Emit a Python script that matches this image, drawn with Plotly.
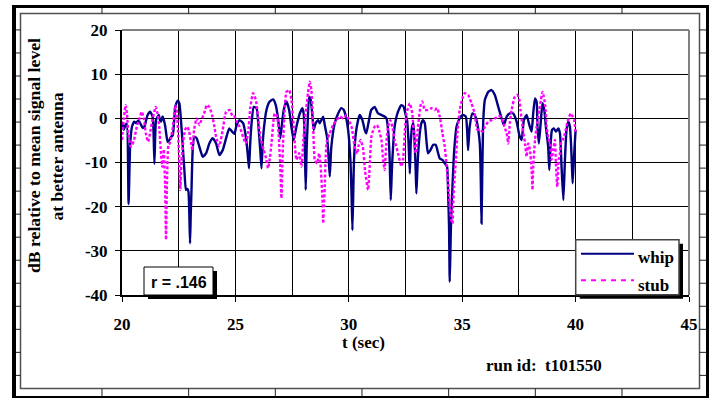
import plotly.graph_objects as go

# ---------------- data ----------------
t_whip = [20.00, 20.08, 20.15, 20.21, 20.29, 20.36, 20.44, 20.54, 20.62, 20.70, 20.76, 20.84, 20.92, 20.99,
          21.06, 21.13, 21.24, 21.35, 21.39, 21.43, 21.47, 21.50, 21.56, 21.62, 21.68, 21.72, 21.79, 21.85,
          21.91, 22.01, 22.09, 22.16, 22.24, 22.30, 22.35, 22.41, 22.46, 22.53, 22.60, 22.68, 22.75, 22.82,
          22.88, 22.93, 22.97, 23.00, 23.03, 23.06, 23.12, 23.19, 23.29, 23.41, 23.56, 23.71, 23.85, 24.00,
          24.15, 24.29, 24.44, 24.59, 24.73, 24.85, 24.96, 25.03, 25.12, 25.19, 25.34, 25.48, 25.55, 25.60,
          25.65, 25.70, 25.81, 25.93, 26.04, 26.10, 26.15, 26.20, 26.25, 26.37, 26.51, 26.66, 26.78, 26.88,
          26.98, 27.06, 27.13, 27.25, 27.37, 27.47, 27.57, 27.69, 27.84, 27.95, 28.01, 28.06, 28.10, 28.14,
          28.18, 28.25, 28.32, 28.40, 28.45, 28.54, 28.65, 28.72, 28.79, 28.87, 28.94, 29.04, 29.10, 29.16,
          29.23, 29.38, 29.53, 29.67, 29.78, 29.87, 29.97, 30.07, 30.12, 30.16, 30.20, 30.23, 30.31, 30.41,
          30.48, 30.60, 30.70, 30.77, 30.89, 30.99, 31.14, 31.29, 31.44, 31.58, 31.66, 31.74, 31.80, 31.85,
          31.89, 31.92, 32.02, 32.17, 32.32, 32.42, 32.51, 32.57, 32.63, 32.69, 32.73, 32.79, 32.85, 32.91,
          32.95, 32.98, 33.02, 33.05, 33.13, 33.20, 33.27, 33.35, 33.42, 33.49, 33.60, 33.72, 33.83, 33.94,
          34.01, 34.13, 34.23, 34.33, 34.38, 34.42, 34.45, 34.48, 34.51, 34.57, 34.64, 34.75, 34.85, 34.94,
          35.04, 35.16, 35.22, 35.26, 35.30, 35.33, 35.45, 35.55, 35.63, 35.72, 35.78, 35.82, 35.85, 35.88,
          35.93, 36.00, 36.15, 36.29, 36.44, 36.59, 36.74, 36.84, 36.96, 37.10, 37.25, 37.40, 37.52, 37.62,
          37.72, 37.84, 37.96, 38.06, 38.13, 38.21, 38.28, 38.32, 38.38, 38.46, 38.54, 38.62, 38.69, 38.79,
          38.84, 38.90, 38.96, 39.04, 39.13, 39.24, 39.31, 39.38, 39.46, 39.53, 39.60, 39.68, 39.75, 39.80,
          39.84, 39.87, 39.93, 40.00]
whip_db = [-0.8, -2.6, -1.5, -1.2, -19.4, -6.0, -1.9, -0.75, -1.1, -0.6, -0.75, -1.5, -2.2, -1.9,
           -0.5, 0.75, 1.5, 0.4, -3.0, -10.3, -3.0, -0.4, 0.3, 0.75, -0.5, -0.75, 0.4, -0.5,
           -1.9, -5.3, -4.9, -4.2, -3.8, -0.5, 2.6, 3.6, 4.0, 3.4, -0.4, -6.4, -11.7, -16.2,
           -16.0, -16.6, -22.0, -28.3, -22.0, -17.0, -6.8, -4.2, -4.5, -6.4, -8.7, -7.9, -5.7, -4.5,
           -5.7, -8.3, -7.2, -4.5, -2.3, -3.0, -3.5, -2.0, -0.8, -0.4, -1.1, -4.9, -8.5, -11.3,
           -6.0, -1.9, 2.6, 2.3, -3.4, -7.5, -11.3, -6.0, -2.6, 1.9, 3.8, 4.3, 3.0, 0.0,
           -4.5, -1.0, 1.9, 3.8, 1.9, -1.9, -4.9, -1.9, 1.1, 2.3, 1.1, -6.0, -16.2, -7.0,
           -1.9, 4.9, 4.2, 0.4, -2.6, -1.1, -0.4, -1.1, -0.4, 0.4, -1.5, -4.2, -8.0, -13.2,
           -6.4, -1.1, 1.1, 2.3, 1.9, 0.4, -2.6, -9.4, -17.0, -25.3, -16.0, -9.4, -3.4, -0.4,
           0.75, -0.4, -2.6, -3.4, -0.4, 1.9, 2.6, 1.1, 0.75, 0.4, 0.0, -3.0, -9.0, -18.5,
           -13.0, -9.4, -1.9, 1.5, 3.0, 2.6, 0.75, -0.4, -5.0, -12.5, -5.7, -1.9, -1.1, -6.4,
           -12.0, -17.0, -12.0, -8.7, -3.4, -1.1, -0.4, -1.1, -4.9, -7.9, -7.2, -6.0, -6.0, -7.9,
           -9.1, -9.4, -10.2, -10.9, -17.0, -24.5, -37.0, -30.0, -23.0, -15.5, -7.9, -1.9, -0.4, 0.4,
           0.75, 0.4, -3.0, -7.2, -4.0, -1.9, 1.1, 0.75, -0.4, -3.0, -6.0, -14.0, -23.8, -14.0,
           -0.4, 4.2, 6.0, 6.4, 5.3, 2.6, 0.0, -1.5, 0.4, 1.1, 1.1, -0.75, -3.8, -4.9,
           -0.4, 0.75, -1.5, -3.0, 1.1, 4.5, 3.8, -1.9, -5.7, -1.1, 3.4, 1.9, -1.9, -6.4,
           -11.7, -5.7, -2.6, -2.3, -3.0, -2.3, -3.4, -10.9, -18.5, -9.4, -2.6, -0.75, -1.9, -6.0,
           -11.0, -14.7, -8.7, -2.6]

t_stub = [20.00, 20.08, 20.16, 20.22, 20.28, 20.38, 20.45, 20.53, 20.65, 20.75, 20.87, 20.96, 21.05, 21.15,
          21.25, 21.34, 21.49, 21.57, 21.64, 21.72, 21.78, 21.84, 21.90, 21.94, 21.98, 22.05, 22.10, 22.16,
          22.24, 22.35, 22.41, 22.47, 22.52, 22.57, 22.62, 22.69, 22.78, 22.88, 22.96, 23.04, 23.10, 23.18,
          23.29, 23.41, 23.50, 23.62, 23.74, 23.85, 23.97, 24.06, 24.15, 24.29, 24.44, 24.59, 24.74, 24.88,
          24.96, 25.08, 25.19, 25.34, 25.45, 25.56, 25.66, 25.78, 25.90, 26.00, 26.10, 26.25, 26.35, 26.44,
          26.52, 26.59, 26.73, 26.84, 26.93, 26.98, 27.03, 27.07, 27.10, 27.18, 27.25, 27.37, 27.47, 27.57,
          27.69, 27.81, 27.91, 27.98, 28.05, 28.13, 28.20, 28.28, 28.35, 28.43, 28.50, 28.60, 28.69, 28.75,
          28.84, 28.87, 28.90, 28.94, 28.98, 29.04, 29.16, 29.31, 29.46, 29.60, 29.75, 29.90, 29.97, 30.12,
          30.26, 30.36, 30.44, 30.52, 30.62, 30.72, 30.85, 30.92, 31.00, 31.14, 31.24, 31.33, 31.44, 31.51,
          31.58, 31.65, 31.73, 31.83, 31.92, 32.02, 32.17, 32.32, 32.39, 32.47, 32.54, 32.69, 32.80, 32.88,
          32.95, 33.05, 33.17, 33.24, 33.35, 33.49, 33.64, 33.79, 33.89, 34.01, 34.13, 34.23, 34.33, 34.42,
          34.48, 34.54, 34.57, 34.60, 34.64, 34.72, 34.79, 34.89, 35.01, 35.11, 35.26, 35.41, 35.55, 35.66,
          35.78, 35.90, 36.00, 36.15, 36.29, 36.44, 36.59, 36.66, 36.74, 36.81, 36.96, 37.03, 37.10, 37.18,
          37.32, 37.43, 37.52, 37.57, 37.66, 37.77, 37.84, 37.91, 37.99, 38.06, 38.10, 38.13, 38.21, 38.28,
          38.40, 38.47, 38.54, 38.60, 38.68, 38.72, 38.79, 38.87, 38.94, 39.01, 39.09, 39.13, 39.19, 39.25,
          39.31, 39.35, 39.43, 39.53, 39.63, 39.72, 39.79, 39.87, 39.94, 40.00]
stub_db = [-4.9, 0.0, 3.0, 1.0, -3.4, -6.4, -6.0, -4.9, -2.0, -0.4, 1.5, 0.0, -3.4, -5.3,
           -3.0, -0.4, 2.6, 1.0, -1.9, -8.0, -11.0, -7.0, -15.0, -27.5, -15.0, -6.0, -5.7, -4.5,
           -2.0, 3.0, 2.0, -3.0, -9.0, -16.2, -10.0, -5.7, -2.6, -1.9, -3.0, -5.3, -7.2, -2.6,
           0.0, -1.5, -0.4, 1.1, 3.0, 2.6, 0.75, -1.5, -4.2, -6.3, -2.6, 1.5, 1.9, 0.4,
           0.4, -1.0, -1.9, -4.2, -5.7, -3.4, 2.6, 5.7, 4.2, 0.4, -4.2, -7.2, -9.0, -11.3,
           -9.0, -5.7, 1.1, 0.4, -5.7, -11.0, -18.1, -11.0, -5.7, 2.6, 6.0, 6.4, 4.2, -1.9,
           -9.4, -7.9, -10.9, -6.4, -1.0, 2.6, 5.7, 8.3, 6.4, -1.9, -9.4, -10.2, -7.9, -10.2,
           -18.5, -23.8, -20.0, -15.5, -8.7, -4.9, -3.4, -1.5, -0.4, 0.4, 0.0, 0.75, 0.0, -1.9,
           -6.4, -8.0, -6.0, -4.9, -6.5, -12.0, -16.2, -11.0, -4.0, -1.9, -1.5, -2.6, -4.9, -9.4,
           -11.7, -6.0, -1.9, -0.4, -1.9, -4.9, -7.9, -10.9, -9.4, -3.0, 1.1, 3.4, 1.1, -4.9,
           -7.9, -1.9, 3.0, 3.8, 1.9, 1.9, 2.3, 1.9, 2.3, 0.4, -3.4, -6.4, -11.7, -17.7,
           -21.5, -23.5, -23.8, -20.0, -15.5, -9.4, -3.4, 1.9, 4.5, 5.7, 5.3, 3.4, 1.1, -2.5,
           -2.6, -3.0, -1.9, -0.75, -0.4, 0.0, 0.4, 0.5, 0.0, -1.1, -3.4, -5.7, -1.1, 1.9,
           4.9, 5.3, 4.2, 1.9, -1.9, -5.7, -8.7, -5.7, -7.2, -11.7, -16.2, -10.9, -4.9, -1.9,
           1.9, 4.2, 6.0, 4.9, 1.9, -1.9, -4.2, -5.7, -9.4, -7.2, -4.9, -10.2, -15.5, -9.4,
           -7.9, -5.7, -4.9, -3.4, -1.1, 0.4, 1.1, 0.4, -0.4, -3.4]

series_names = ["whip", "stub"]
series_colors = ["#000080", "#FF00FF"]
x_ticks = [20, 25, 30, 35, 40, 45]
y_ticks = [20, 10, 0, -10, -20, -30, -40]
r_text = "r = .146"
run_id_text = "run id:\u00a0\u00a0t101550"
x_title = "t (sec)"
y_title_1 = "dB relative to mean signal level"
y_title_2 = "at better antenna"

# ---------------- layout geometry ----------------
W, H = 714, 398
ML, MR, MT, MB = 122, 25, 30, 103
PW, PH = W - ML - MR, H - MT - MB

def px(x):
    return (x - ML) / PW

def py(y):
    return (H - MB - y) / PH

SERIF = "Liberation Serif"
SANS = "Liberation Sans"

fig = go.Figure()
fig.add_trace(go.Scatter(x=t_whip, y=whip_db, mode="lines", name=series_names[0],
                         line=dict(color=series_colors[0], width=2.4, shape="spline", smoothing=0.5)))
fig.add_trace(go.Scatter(x=t_stub, y=stub_db, mode="lines", name=series_names[1],
                         line=dict(color=series_colors[1], width=2.4, dash="3px,2px",
                                   shape="spline", smoothing=0.5)))

shapes = []

def rect(x0, y0, x1, y1, fill=None, line=None, lw=0, layer="above"):
    d = dict(type="rect", xref="paper", yref="paper", x0=px(x0), x1=px(x1), y0=py(y1), y1=py(y0),
             layer=layer, line=dict(width=lw, color=line or "rgba(0,0,0,0)"))
    if fill:
        d["fillcolor"] = fill
    shapes.append(d)

def seg(x0, y0, x1, y1, color, width, dash=None):
    ln = dict(color=color, width=width)
    if dash:
        ln["dash"] = dash
    shapes.append(dict(type="line", xref="paper", yref="paper", x0=px(x0), x1=px(x1),
                       y0=py(y0), y1=py(y1), line=ln, layer="above"))

# outer thick frame
rect(12, 5, 16, 399, fill="black")
rect(12, 5, 709, 8, fill="black")
rect(706, 5, 709, 399, fill="black")
rect(12, 396, 709, 399, fill="black")
# inner thin frame
rect(20.5, 13.5, 699.5, 388.5, line="#505050", lw=1.5)
# ruler ticks
for k in range(1, 17):
    yy = 6.9 + 23.03 * k
    seg(16, yy, 20.5, yy, "#202020", 1)
    seg(699.5, yy, 706, yy, "#202020", 1)
for k in range(1, 8):
    xx = 15.3 + 86.67 * k
    seg(xx, 8, xx, 13.5, "#202020", 1)
    seg(xx, 388.5, xx, 396, "#202020", 1)

# plot area top/right border (gray)
shapes.append(dict(type="line", xref="paper", yref="paper", x0=0, x1=1, y0=1, y1=1,
                   line=dict(color="#808080", width=2)))
shapes.append(dict(type="line", xref="paper", yref="paper", x0=1, x1=1, y0=0, y1=1,
                   line=dict(color="#808080", width=2)))

# r box with shadow
rect(148, 271, 217, 299, fill="black")
rect(144, 267, 213, 295, fill="white", line="black", lw=1)

# legend box with shadow
rect(579.7, 243.7, 683, 298.7, fill="black")
rect(575.7, 239.7, 679, 294.7, fill="white", line="#444444", lw=1.5)
seg(581, 253.7, 634, 253.7, series_colors[0], 2)
seg(581, 280.3, 634, 280.3, series_colors[1], 2, dash="5px,5px")

annotations = [
    dict(text=r_text, x=px(178.7), y=py(282.5), xref="paper", yref="paper", showarrow=False,
         xanchor="center", yanchor="middle", font=dict(family=SANS, size=16, color="black", weight="bold")),
    dict(text=series_names[0], x=px(636), y=py(257.3), xref="paper", yref="paper", showarrow=False,
         xanchor="left", yanchor="middle", font=dict(family=SERIF, size=17, color="black", weight="bold")),
    dict(text=series_names[1], x=px(636), y=py(285), xref="paper", yref="paper", showarrow=False,
         xanchor="left", yanchor="middle", font=dict(family=SERIF, size=17, color="black", weight="bold")),
    dict(text=x_title, x=px(363.7), y=py(342), xref="paper", yref="paper", showarrow=False,
         xanchor="center", yanchor="middle", font=dict(family=SERIF, size=17, color="black", weight="bold")),
    dict(text=run_id_text, x=px(544), y=py(365.3), xref="paper", yref="paper", showarrow=False,
         xanchor="center", yanchor="middle", font=dict(family=SERIF, size=17, color="black", weight="bold")),
    dict(text=y_title_1, x=px(34), y=py(156), xref="paper", yref="paper", showarrow=False, textangle=-90,
         xanchor="center", yanchor="middle", font=dict(family=SERIF, size=17.7, color="black", weight="bold")),
    dict(text=y_title_2, x=px(56), y=py(156.5), xref="paper", yref="paper", showarrow=False, textangle=-90,
         xanchor="center", yanchor="middle", font=dict(family=SERIF, size=17.5, color="black", weight="bold")),
]

tickfont = dict(family=SERIF, size=17, color="black", weight="bold")
fig.update_layout(
    width=W, height=H,
    margin=dict(l=ML, r=MR, t=MT, b=MB, pad=0),
    paper_bgcolor="white", plot_bgcolor="white",
    showlegend=False,
    shapes=shapes, annotations=annotations,
    xaxis=dict(range=[20, 45], tickvals=x_ticks, ticktext=[str(v) for v in x_ticks],
               ticks="outside", ticklen=5, tickcolor="black", tickwidth=1,
               showgrid=True, gridcolor="black", gridwidth=1,
               minor=dict(dtick=2.5, tick0=20, showgrid=True, gridcolor="black", gridwidth=1, ticks=""),
               showline=True, linecolor="black", linewidth=2, zeroline=False,
               tickfont=tickfont, ticklabelstandoff=8, fixedrange=True),
    yaxis=dict(range=[-40, 20], tickvals=y_ticks, ticktext=[str(v) for v in y_ticks],
               ticks="outside", ticklen=5, tickcolor="black", tickwidth=1,
               showgrid=True, gridcolor="black", gridwidth=1,
               showline=True, linecolor="black", linewidth=2, zeroline=False,
               tickfont=tickfont, ticklabelstandoff=4, fixedrange=True),
)

fig.write_html("out.html")
